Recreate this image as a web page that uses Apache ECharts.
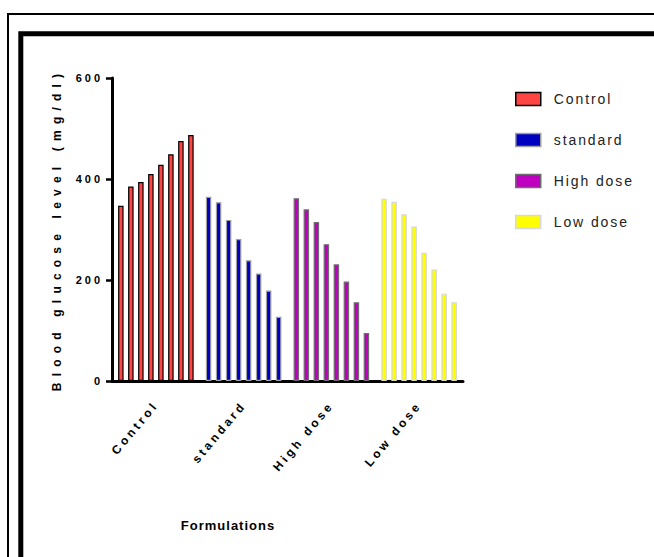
<!DOCTYPE html>
<html><head><meta charset="utf-8">
<script src="https://cdn.jsdelivr.net/npm/echarts@6/dist/echarts.min.js"></script>
<style>html,body{margin:0;padding:0;background:#fff}#main{width:654px;height:557px}</style>
</head><body><div id="main"></div>
<script>
// ---- data ----
const categories = ['Control', 'standard', 'High dose', 'Low dose'];
const controlValues  = [347, 385, 394, 410, 428, 449, 475, 487];
const standardValues = [365, 354, 319, 281, 239, 213, 179, 127];
const highDoseValues = [362, 340, 315, 271, 231, 197, 156, 95];
const lowDoseValues  = [361, 355, 330, 306, 254, 221, 173, 156];
const yTickValues = [0, 200, 400, 600];

// ---- styles ----
const groupColors  = ['#FF4444', '#0000C0', '#C000C0', '#FFFF00'];
const groupBorders = ['#000000', '#A0A0A0', '#6E6E6E', '#D8D8D8'];
const FONT = "'Liberation Sans', Arial, sans-serif";

const groups = [controlValues, standardValues, highDoseValues, lowDoseValues];

const barSeries = controlValues.map((_, k) => ({
  type: 'bar',
  silent: true,
  barWidth: 5.5,
  barGap: '82%',
  data: groups.map((g, i) => ({
    value: g[k],
    itemStyle: { color: groupColors[i], borderColor: groupBorders[i], borderWidth: 1.2, opacity: 1 }
  }))
}));

const legendSeries = categories.map((c, i) => ({
  type: 'scatter', name: c, data: [], silent: true,
  itemStyle: { color: groupColors[i], borderColor: groupBorders[i], borderWidth: 1.5, opacity: 1 }
}));

const chart = echarts.init(document.getElementById('main'), null, { renderer: 'svg' });
chart.setOption({
  animation: false,
  backgroundColor: '#fff',
  grid: { left: 112, right: 191, top: 78, bottom: 176 },
  legend: {
    orient: 'vertical', left: 510, top: 80,
    itemWidth: 25, itemHeight: 13, itemGap: 13,
    icon: 'rect', selectedMode: false,
    textStyle: { fontFamily: FONT, fontSize: 14, color: '#222', lineHeight: 16, padding: [12, 0, 0, 8] },
    data: categories.map((c, i) => ({
      name: c,
      itemStyle: { color: groupColors[i], borderColor: groupBorders[i], borderWidth: 1.5, opacity: 1 }
    }))
  },
  xAxis: {
    type: 'category', data: categories,
    axisLine: { lineStyle: { color: '#000', width: 3 } },
    axisTick: { alignWithLabel: true, length: 8, lineStyle: { color: '#000', width: 2.5 } },
    axisLabel: { rotate: 50, margin: 22, color: '#000', fontFamily: FONT, fontWeight: 'bold', fontSize: 12 },
    splitLine: { show: false }
  },
  yAxis: {
    type: 'value', min: yTickValues[0], max: yTickValues[yTickValues.length - 1], interval: yTickValues[1] - yTickValues[0],
    name: 'Blood glucose level (mg/dl)', nameLocation: 'middle', nameGap: 49,
    nameTextStyle: { fontFamily: FONT, fontWeight: 'bold', fontSize: 12, color: '#000' },
    axisLine: { show: true, lineStyle: { color: '#000', width: 3 } },
    axisTick: { show: true, length: 6, lineStyle: { color: '#000', width: 2.5 } },
    axisLabel: { margin: 9, color: '#000', fontFamily: FONT, fontWeight: 'bold', fontSize: 11, padding: [5, 0, 0, 0] },
    splitLine: { show: false }
  },
  graphic: [
    { type: 'rect', silent: true, shape: { x: 8, y: 14, width: 1000, height: 1000 }, style: { fill: 'none', stroke: '#000', lineWidth: 2 } },
    { type: 'rect', silent: true, shape: { x: 20.8, y: 33.8, width: 1000, height: 1000 }, style: { fill: 'none', stroke: '#000', lineWidth: 5 } },
    { type: 'text', silent: true, x: 228, y: 525, style: { text: 'Formulations', align: 'center', verticalAlign: 'middle', fontFamily: FONT, fontWeight: 'bold', fontSize: 13, fill: '#000' } }
  ],
  series: barSeries.concat(legendSeries)
});

// letter spacing like the reference typography
function applySpacing() {
  document.querySelectorAll('#main svg text, #main svg tspan').forEach(t => {
    const s = (t.textContent || '').replace(/\s+/g, ' ').trim();
    const cs = getComputedStyle(t);
    const bold = cs.fontWeight === 'bold' || parseInt(cs.fontWeight) >= 600;
    let ls = 0;
    if (s === 'Formulations') ls = 1;
    else if (s.indexOf('Blood') === 0) ls = 6.2;
    else if (categories.includes(s)) ls = bold ? 3.2 : 1.9;
    else if (/^\d+$/.test(s)) ls = 3;
    if (ls) { t.setAttribute('letter-spacing', ls + 'px'); t.style.letterSpacing = ls + 'px'; }
  });
}
applySpacing();
chart.on('finished', applySpacing);
setTimeout(applySpacing, 0);
</script>
</body></html>
